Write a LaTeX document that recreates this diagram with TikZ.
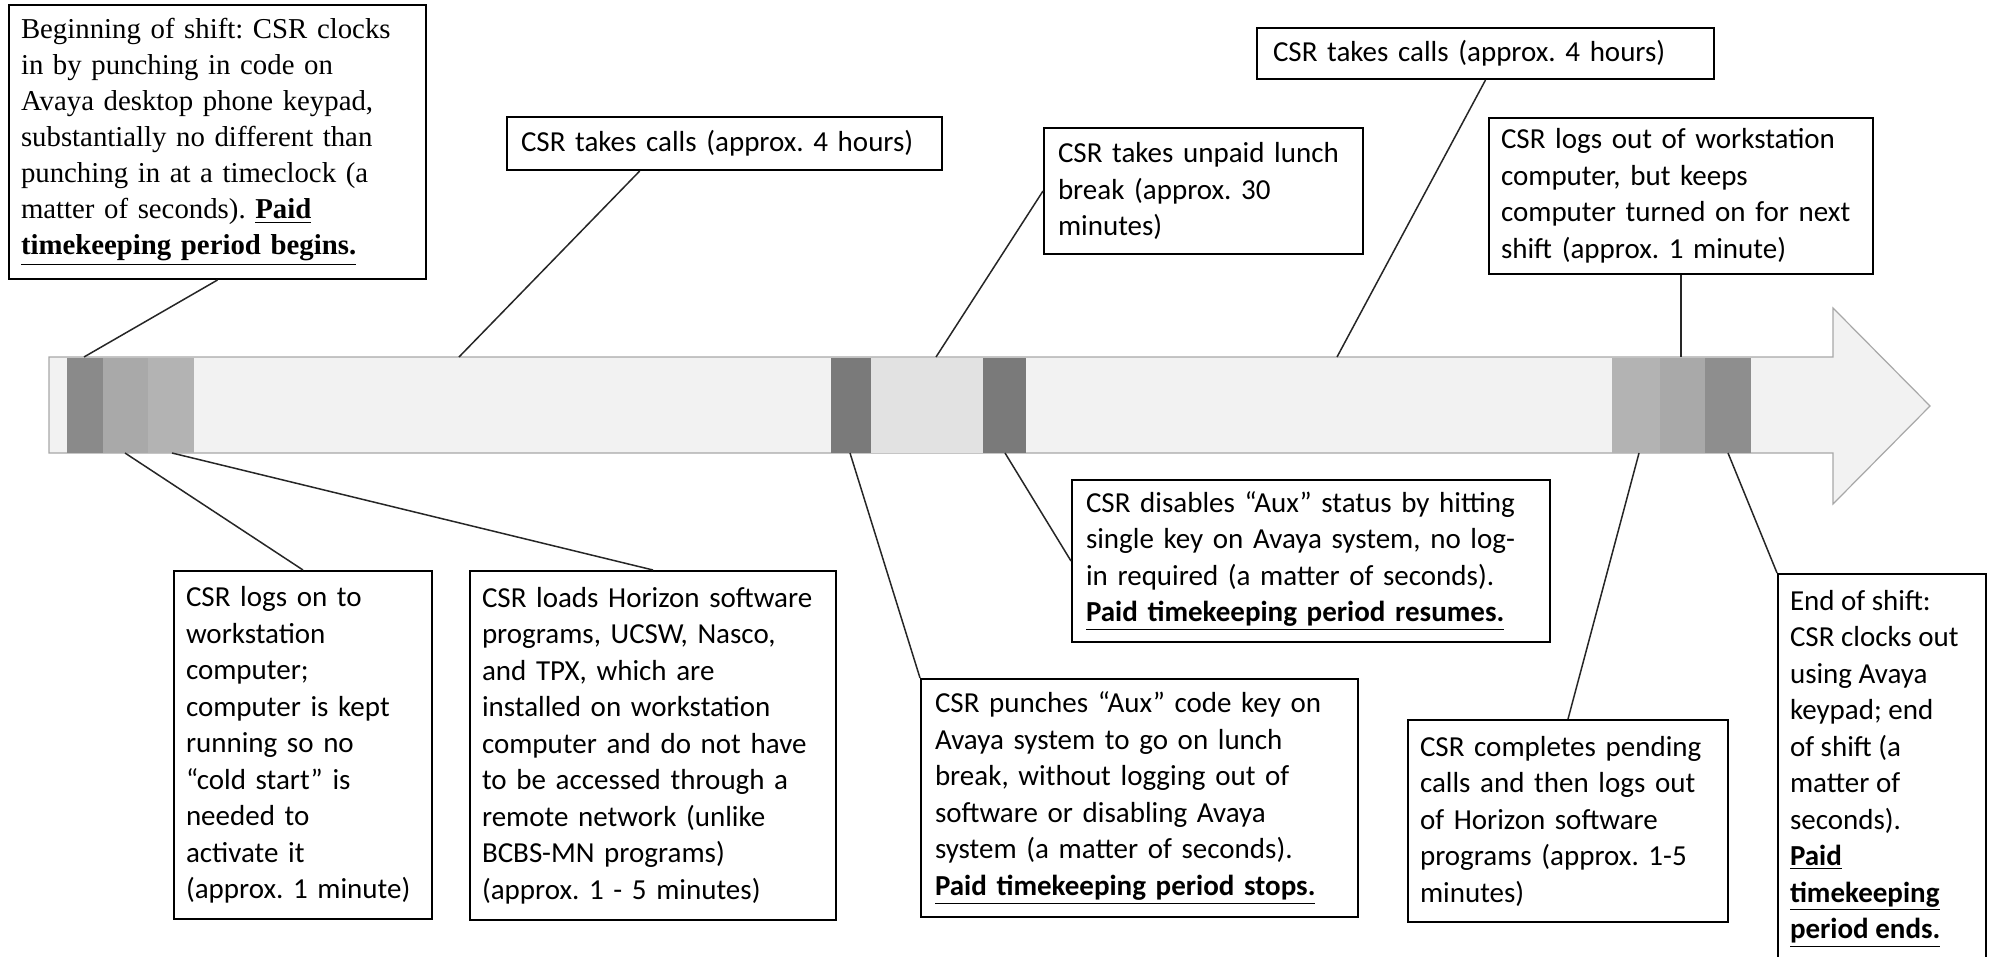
\documentclass[tikz,border=0pt]{standalone}
\usepackage{fontspec}
\newfontfamily\calfont{Carlito}
\newfontfamily\timesfont{Liberation Serif}
\usetikzlibrary{calc}
\definecolor{barfill}{HTML}{F2F2F2}
\definecolor{barline}{HTML}{A8A8A8}
\definecolor{darkband}{HTML}{7A7A7A}
\definecolor{firstband}{HTML}{8A8A8A}
\definecolor{midband}{HTML}{A9A9A9}
\definecolor{midbandb}{HTML}{B3B3B3}
\definecolor{lunchband}{HTML}{E2E2E2}
\definecolor{endband}{HTML}{8E8E8E}
\newcommand\ulbf[1]{\textbf{\underline{#1}}}
\begin{document}
\frenchspacing
\hyphenpenalty=10000
\exhyphenpenalty=10000
\begin{tikzpicture}[x=0.5pt,y=-0.5pt,
  callout/.style={draw=black, line width=1pt, fill=white, anchor=north west,
    inner ysep=0pt, text=black, font=\calfont\fontsize{14.5pt}{18.25pt}\selectfont},
  wrapbox/.style={callout, align=left},
  serifbox/.style={wrapbox, font=\timesfont\fontsize{14.4pt}{18pt}\selectfont},
  leader/.style={draw=black!85, line width=0.75pt}]
\useasboundingbox (0,0) rectangle (1989,957);
\clip (0,0) rectangle (1989,957);
\fill[white] (0,0) rectangle (1989,957);

% timeline arrow
\filldraw[fill=barfill, draw=barline, line width=0.6pt]
  (49,357) -- (1833,357) -- (1833,308) -- (1930,406) -- (1833,504) -- (1833,453) -- (49,453) -- cycle;
\fill[firstband] (67,357.5) rectangle (103,452.5);
\fill[midband] (103,357.5) rectangle (148,452.5);
\fill[midbandb] (148,357.5) rectangle (194,452.5);
\fill[darkband] (831,357.5) rectangle (871,452.5);
\fill[lunchband] (871,357.5) rectangle (983,452.5);
\fill[darkband] (983,357.5) rectangle (1026,452.5);
\fill[midbandb] (1612,357.5) rectangle (1660,452.5);
\fill[midband] (1660,357.5) rectangle (1705,452.5);
\fill[endband] (1705,357.5) rectangle (1751,452.5);

% attachment points on the timeline
\coordinate (a1) at (84,357);
\coordinate (b1) at (459,357);
\coordinate (c1) at (936,357);
\coordinate (d1) at (1337,357);
\coordinate (e1) at (1681,357);
\coordinate (f1) at (125,453);
\coordinate (g1) at (172,453);
\coordinate (h1) at (850,453);
\coordinate (i1) at (1005,453);
\coordinate (j1) at (1639,453);
\coordinate (k1) at (1728,453);

% boxes above
\node[serifbox, text width=196.5pt, inner xsep=6pt, minimum height=137pt] (bA) at (8,4)
 {Beginning of shift: CSR clocks\\ in by punching in code on\\ Avaya desktop phone keypad,\\ substantially no different than\\ punching in at a timeclock (a\\ matter of seconds). \ulbf{Paid}\\ \ulbf{timekeeping period begins.}};
\node[wrapbox, text width=203.5pt, inner xsep=7pt, minimum height=26.5pt] (bB) at (506,116)
 {CSR takes calls (approx. 4 hours)};
\node[wrapbox, text width=145.5pt, inner xsep=7pt, minimum height=63pt] (bC) at (1043,127)
 {CSR takes unpaid lunch\\ break (approx. 30\\ minutes)};
\node[wrapbox, text width=212.5pt, inner xsep=8pt, minimum height=25.5pt] (bD) at (1256,27)
 {CSR takes calls (approx. 4 hours)};
\node[wrapbox, text width=180pt, inner xsep=6pt, minimum height=78pt] (bE) at (1488,117)
 {CSR logs out of workstation\\ computer, but keeps\\ computer turned on for next\\ shift (approx. 1 minute)};

% boxes below
\node[wrapbox, text width=117pt, inner xsep=6pt, minimum height=174pt] (bF) at (173,570)
 {CSR logs on to\\ workstation\\ computer;\\ computer is kept\\ running so no\\ “cold start” is\\ needed to\\ activate it\\ (approx. 1 minute)};
\node[wrapbox, text width=171pt, inner xsep=6pt, minimum height=174.5pt] (bG) at (469,570)
 {CSR loads Horizon software\\ programs, UCSW, Nasco,\\ and TPX, which are\\ installed on workstation\\ computer and do not have\\ to be accessed through a\\ remote network (unlike\\ BCBS-MN programs)\\ (approx. 1 - 5 minutes)};
\node[wrapbox, text width=204.5pt, inner xsep=7pt, minimum height=119pt] (bH) at (920,678)
 {CSR punches “Aux” code key on\\ Avaya system to go on lunch\\ break, without logging out of\\ software or disabling Avaya\\ system (a matter of seconds).\\ \ulbf{Paid timekeeping period stops.}};
\node[wrapbox, text width=225pt, inner xsep=7pt, minimum height=81pt] (bI) at (1071,479)
 {CSR disables “Aux” status by hitting\\ single key on Avaya system, no log-\\ in required (a matter of seconds).\\ \ulbf{Paid timekeeping period resumes.}};
\node[wrapbox, text width=148pt, inner xsep=6pt, minimum height=101pt] (bJ) at (1407,719)
 {CSR completes pending\\ calls and then logs out\\ of Horizon software\\ programs (approx. 1-5\\ minutes)};
\node[callout, inner xsep=6pt] (bK) at (1777,573)
 {\parbox[c][200pt][t]{92pt}{\raggedright\vspace*{8pt}End of shift:\\ CSR clocks out\\ using Avaya\\ keypad; end\\ of shift (a\\ matter of\\ seconds).\\ \ulbf{Paid}\\ \ulbf{timekeeping}\\ \ulbf{period ends.}}};

% leaders
\draw[leader] (bA.south) -- (a1);
\draw[leader] ($(bB.south west)!0.306!(bB.south east)$) -- (b1);
\draw[leader] (bC.west) -- (c1);
\draw[leader] (bD.south) -- (d1);
\draw[leader] (bE.south) -- (e1);
\draw[leader] (bF.north) -- (f1);
\draw[leader] (bG.north) -- (g1);
\draw[leader] (bH.north west) -- (h1);
\draw[leader] (bI.west) -- (i1);
\draw[leader] (bJ.north) -- (j1);
\draw[leader] (bK.north west) -- (k1);
\end{tikzpicture}
\end{document}
